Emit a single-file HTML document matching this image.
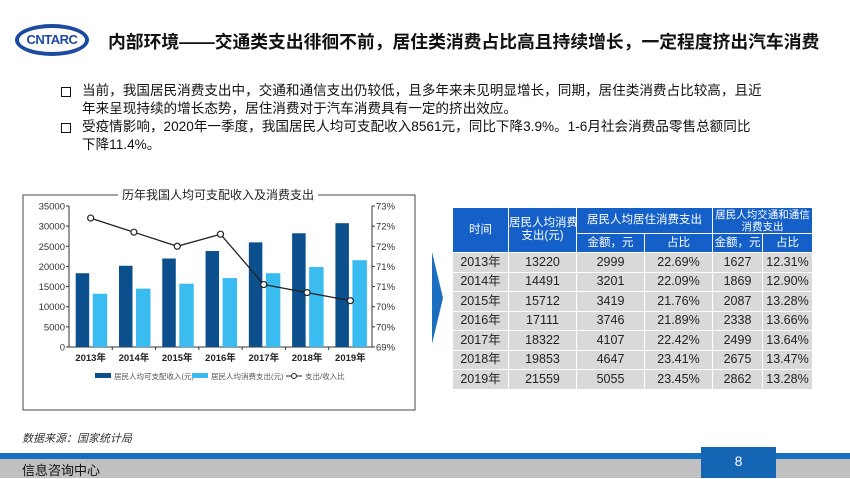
<!DOCTYPE html>
<html><head><meta charset="utf-8">
<style>
body{margin:0;width:850px;height:478px;overflow:hidden;background:#fff;font-family:"Liberation Sans","Noto Sans CJK SC",sans-serif;position:relative}
.abs{position:absolute}
#title{left:108px;top:28px;font-size:17.8px;font-weight:bold;color:#111;white-space:nowrap}
.bul{left:62px;font-size:13.6px;color:#111;line-height:18px}
.sq{position:absolute;left:-1px;width:8px;height:8px;border:1.6px solid #111}
table{border-collapse:collapse;font-size:12.5px;table-layout:fixed}
td{text-align:center;padding:0;border:1px solid #fff;overflow:hidden;white-space:nowrap;line-height:17px}
.h td{font-size:11.5px;line-height:13px}
</style></head><body>
<div class="abs" style="left:15px;top:24px;width:74px;height:32px;border:4px solid #1b4aa0;border-radius:50%;box-sizing:border-box;text-align:center;font:bold 13px 'Liberation Sans',sans-serif;color:#1b4aa0;line-height:24px;letter-spacing:-0.5px">CNTARC</div>
<div id="title" class="abs">内部环境——交通类支出徘徊不前，居住类消费占比高且持续增长，一定程度挤出汽车消费</div>
<div class="abs bul" style="top:82px;width:740px"><span class="sq" style="top:5px"></span><div style="margin-left:20px">当前，我国居民消费支出中，交通和通信支出仍较低，且多年来未见明显增长，同期，居住类消费占比较高，且近<br>年来呈现持续的增长态势，居住消费对于汽车消费具有一定的挤出效应。</div></div>
<div class="abs bul" style="top:118px;width:740px"><span class="sq" style="top:5px"></span><div style="margin-left:20px">受疫情影响，2020年一季度，我国居民人均可支配收入8561元，同比下降3.9%。1-6月社会消费品零售总额同比<br>下降11.4%。</div></div>

<svg class="abs" style="left:0;top:0" width="850" height="478">
<rect x="23" y="195" width="392" height="215" fill="none" stroke="#444" stroke-width="1"/>
<rect x="118" y="187" width="200" height="16" fill="#fff"/>
<text x="218" y="199" text-anchor="middle" font-size="12" fill="#222">历年我国人均可支配收入及消费支出</text>
<g id="g"></g>
</svg>

<div class="abs" style="left:432px;top:252px;width:0;height:0;border-top:46px solid transparent;border-bottom:46px solid transparent;border-left:11px solid #1a6fc0"></div>

<table class="abs" style="left:452px;top:207px;width:360px">
<colgroup><col style="width:56px"><col style="width:68px"><col style="width:68px"><col style="width:68px"><col style="width:50px"><col style="width:50px"></colgroup>
<tr class="h" style="height:26px;background:#1560c8;color:#fff"><td rowspan="2">时间</td><td rowspan="2">居民人均消费<br>支出(元)</td><td colspan="2">居民人均居住消费支出</td><td colspan="2" style="font-size:10.5px;line-height:12px">居民人均交通和通信<br>消费支出</td></tr>
<tr class="h" style="height:19px;background:#1560c8;color:#fff"><td>金额，元</td><td>占比</td><td>金额，元</td><td>占比</td></tr>
<tbody id="tb"></tbody>
</table>

<div class="abs" style="left:22px;top:430px;font-size:11px;font-style:italic;color:#333">数据来源：国家统计局</div>
<div class="abs" style="left:0;top:453px;width:850px;height:6px;background:#1570c0"></div>
<div class="abs" style="left:0;top:459px;width:850px;height:19px;background:#c0c0c0"></div>
<div class="abs" style="left:22px;top:460px;font-size:13px;color:#111">信息咨询中心</div>
<div class="abs" style="left:701px;top:447px;width:75px;height:31px;background:#1466b4;color:#fff;font-size:14px;text-align:center;line-height:28px">8</div>

<script>
const years=["2013年","2014年","2015年","2016年","2017年","2018年","2019年"];
const income=[18311,20167,21966,23821,25974,28228,30733];
const spend=[13220,14491,15712,17111,18322,19853,21559];
const ratio=[72.2,71.85,71.5,71.8,70.55,70.35,70.15];
const leftTicks=[0,5000,10000,15000,20000,25000,30000,35000];
const rightTicks=[69,69.5,70,70.5,71,71.5,72,72.5];
const housing=[2999,3201,3419,3746,4107,4647,5055];
const housingPct=["22.69%","22.09%","21.76%","21.89%","22.42%","23.41%","23.45%"];
const trans=[1627,1869,2087,2338,2499,2675,2862];
const transPct=["12.31%","12.90%","13.28%","13.66%","13.64%","13.47%","13.28%"];

const NS="http://www.w3.org/2000/svg",g=document.getElementById('g');
const X0=69,X1=372,Y0=347,Y1=206,cw=(X1-X0)/years.length;
const yL=v=>Y0-(v-0)/35000*(Y0-Y1);
const yR=v=>Y0-(v-69)/3.5*(Y0-Y1);
function el(t,a,txt){const e=document.createElementNS(NS,t);for(const k in a)e.setAttribute(k,a[k]);if(txt!=null)e.textContent=txt;g.appendChild(e);return e;}
el('line',{x1:X0,y1:Y1,x2:X0,y2:Y0,stroke:'#333'});
el('line',{x1:X1,y1:Y1,x2:X1,y2:Y0,stroke:'#333'});
el('line',{x1:X0,y1:Y0,x2:X1,y2:Y0,stroke:'#333'});
leftTicks.forEach(v=>{const t=el('text',{x:X0-4,y:yL(v)+3.5,'text-anchor':'end','font-size':9.5,fill:'#333'},v);
el('line',{x1:X0-3,y1:yL(v),x2:X0,y2:yL(v),stroke:'#333'});});
rightTicks.forEach(v=>{const t=el('text',{x:X1+4,y:yR(v)+3.5,'font-size':9.5,fill:'#333'},Math.round(v+1e-9)+'%');
el('line',{x1:X1,y1:yR(v),x2:X1+3,y2:yR(v),stroke:'#333'});});
years.forEach((y,i)=>{const x=X0+i*cw;
const b1=el('rect',{x:x+6.7,y:yL(income[i]),width:13.5,height:Y0-yL(income[i]),fill:'#0b4f8c'});

const b2=el('rect',{x:x+23.7,y:yL(spend[i]),width:14.5,height:Y0-yL(spend[i]),fill:'#3bbcf0'});

const t=el('text',{x:x+cw/2,y:361,'text-anchor':'middle','font-size':9.5,'font-weight':'bold',fill:'#222'},y);

if(i>0)el('line',{x1:x,y1:Y0,x2:x,y2:Y0+3,stroke:'#333'});});
const pts=ratio.map((r,i)=>[X0+i*cw+cw/2,yR(r)]);
const pl=el('polyline',{points:pts.map(p=>p.join(',')).join(' '),fill:'none',stroke:'#222','stroke-width':1.3});

pts.forEach(p=>{const c=el('circle',{cx:p[0],cy:p[1],r:3,fill:'#fff',stroke:'#222','stroke-width':1.2});
});
el('rect',{x:95,y:373,width:16,height:5,fill:'#0b4f8c'});
const l1=el('text',{x:114,y:379,'font-size':7.5,fill:'#555'},'居民人均可支配收入(元)');
el('rect',{x:192,y:373,width:16,height:5,fill:'#3bbcf0'});
const l2=el('text',{x:211,y:379,'font-size':7.5,fill:'#555'},'居民人均消费支出(元)');
el('line',{x1:286,y1:376,x2:302,y2:376,stroke:'#222'});el('circle',{cx:294,cy:376,r:2.5,fill:'#fff',stroke:'#222'});
const l3=el('text',{x:305,y:379,'font-size':7.5,fill:'#555'},'支出/收入比');

const tb=document.getElementById('tb');
years.forEach((y,i)=>{const tr=document.createElement('tr');tr.style.height='19.5px';tr.style.background='#d9d9d9';tr.style.color='#222';

[y,spend[i],housing[i],housingPct[i],trans[i],transPct[i]].forEach(v=>{const td=document.createElement('td');td.textContent=v;tr.appendChild(td);});
tb.appendChild(tr);});
</script>
</body></html>
